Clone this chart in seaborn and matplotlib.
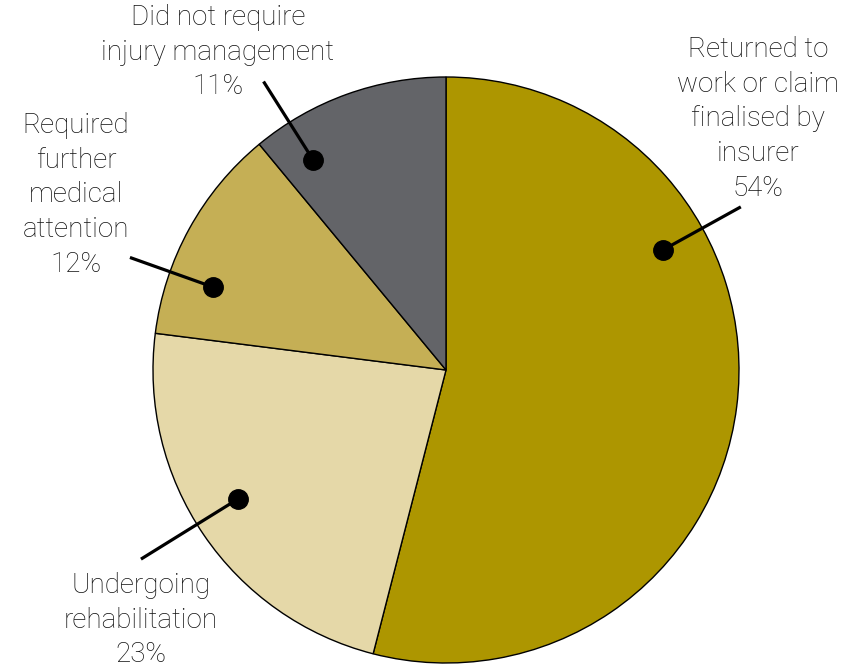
import numpy as np
import matplotlib
matplotlib.use("Agg")
import matplotlib.pyplot as plt
import seaborn as sns

# ---- data ----
categories = [
    "Returned to\nwork or claim\nfinalised by\ninsurer",
    "Undergoing\nrehabilitation",
    "Required\nfurther\nmedical\nattention",
    "Did not require\ninjury management",
]
values = [54, 23, 12, 11]
colors = ["#AD9600", "#E5D8A8", "#C5AF55", "#636468"]

# ---- layout (pixel space, y up) ----
W, H = 850, 668
center = (446, 668 - 370)
radius = 293
dot_frac = [0.686, 0.471, 0.713, 0.816]     # position of dot within wedge angle
dot_r = [0.845, 0.835, 0.843, 0.848]
line_r = [1.15, 1.225, 1.145, 1.165]
text_pos = [(758, 668 - 119), (141, 668 - 620), (76, 668 - 195), (218, 668 - 52)]

sns.set_theme(style="white")
plt.rcParams["font.family"] = ["Roboto", "Liberation Sans", "DejaVu Sans"]

fig = plt.figure(figsize=(W / 100, H / 100), dpi=100)
ax = fig.add_axes([0, 0, 1, 1])
wedges, _ = ax.pie(values, colors=colors, startangle=90, counterclock=False,
                   center=center, radius=radius,
                   wedgeprops=dict(edgecolor="black", linewidth=1.0))
ax.set_xlim(0, W)
ax.set_ylim(0, H)
ax.set_aspect("equal")
ax.axis("off")

for w, lab, v, f, dr, lr, tp in zip(wedges, categories, values, dot_frac, dot_r, line_r, text_pos):
    lo, hi = min(w.theta1, w.theta2), max(w.theta1, w.theta2)
    ang = np.deg2rad(lo + f * (hi - lo))
    cx, cy = center
    dx, dy = np.cos(ang), np.sin(ang)
    p0 = (cx + dr * radius * dx, cy + dr * radius * dy)
    p1 = (cx + lr * radius * dx, cy + lr * radius * dy)
    ax.plot([p0[0], p1[0]], [p0[1], p1[1]], color="black", lw=2.3, solid_capstyle="butt")
    ax.plot([p0[0]], [p0[1]], "o", color="black", ms=14)
    ax.text(tp[0], tp[1], f"{lab}\n{v}%", ha="center", va="center",
            multialignment="center", fontsize=20, fontweight="light",
            color="#111111", linespacing=1.37)

fig.savefig("out.png", dpi=100)
